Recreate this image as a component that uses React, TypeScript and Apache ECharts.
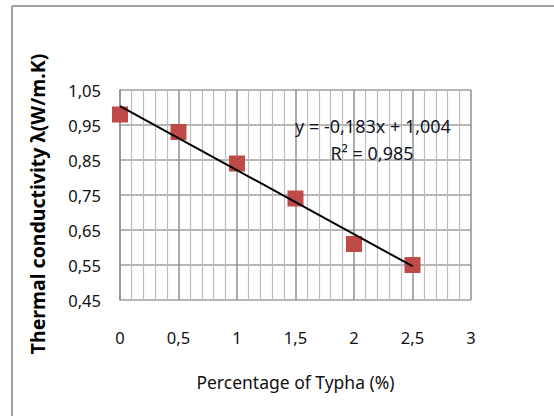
import React, { useEffect, useRef } from "react";
import * as echarts from "echarts";

const typhaPercent = [0, 0.5, 1, 1.5, 2, 2.5];
const conductivity = [0.98, 0.93, 0.84, 0.74, 0.61, 0.55];
const trendSlope = -0.183;
const trendIntercept = 1.004;
const trendXRange = [0, 2.5];
const equationText = "y = -0,183x + 1,004";
const r2Text = "R² = 0,985";
const xTitle = "Percentage of Typha (%)";
const yTitle = "Thermal conductivity λ(W/m.K)";

const FONT = "'Noto Sans', 'Open Sans', sans-serif";

export default function App() {
  const ref = useRef<HTMLDivElement>(null);
  useEffect(() => {
    if (!ref.current) return;
    const chart = echarts.init(ref.current, undefined, { renderer: "svg" });
    const pts = typhaPercent.map((x, i) => [x, conductivity[i]]);
    const trend = trendXRange.map((x) => [x, trendSlope * x + trendIntercept]);
    chart.setOption({
      animation: false,
      backgroundColor: "#fff",
      grid: { left: 120, top: 90, right: 83, bottom: 116, containLabel: false },
      xAxis: {
        type: "value",
        min: 0,
        max: 3,
        interval: 0.5,
        axisLine: { show: false },
        axisTick: { show: false },
        minorTick: { show: false, splitNumber: 5 },
        splitLine: { show: true, lineStyle: { color: "#8f8f8f", width: 1.5 } },
        minorSplitLine: { show: true, lineStyle: { color: "#bcbcbc", width: 1.2 } },
        axisLabel: {
          margin: 29,
          fontSize: 16.5,
          fontFamily: FONT,
          color: "#111",
          formatter: (v: number) => String(v).replace(".", ","),
        },
        name: xTitle,
        nameLocation: "middle",
        nameGap: 73,
        nameTextStyle: { fontSize: 17.5, fontFamily: FONT, color: "#111" },
      },
      yAxis: {
        type: "value",
        min: 0.45,
        max: 1.05,
        interval: 0.1,
        axisLine: { show: true, lineStyle: { color: "#8f8f8f", width: 1.5 } },
        axisTick: { show: false },
        splitLine: { show: true, lineStyle: { color: "#9f9f9f", width: 1.5 } },
        axisLabel: {
          margin: 19,
          fontSize: 16.5,
          fontFamily: FONT,
          color: "#111",
          formatter: (v: number) => v.toFixed(2).replace(".", ","),
        },
      },
      series: [
        {
          type: "scatter",
          data: pts,
          symbol: "rect",
          symbolSize: 16,
          itemStyle: { color: "#be4b48", opacity: 1 },
          z: 2,
        },
        {
          type: "line",
          data: trend,
          showSymbol: false,
          symbol: "none",
          lineStyle: { color: "#000", width: 2 },
          z: 3,
        },
      ],
      graphic: [
        { type: "line", shape: { x1: 12, y1: 6, x2: 12, y2: 416 }, style: { stroke: "#a0a0a0", lineWidth: 2 } },
        { type: "line", shape: { x1: 12, y1: 6, x2: 554, y2: 6 }, style: { stroke: "#a0a0a0", lineWidth: 2 } },
        {
          type: "text",
          x: 37,
          y: 204,
          rotation: Math.PI / 2,
          style: {
            text: yTitle,
            fontSize: 19.5,
            fontWeight: "bold",
            fontFamily: FONT,
            fill: "#000",
            align: "center",
            verticalAlign: "middle",
          },
          z: 10,
        },
        {
          type: "text",
          x: 373,
          y: 126,
          style: { text: equationText, fontSize: 18, fontFamily: FONT, fill: "#111827", align: "center", verticalAlign: "middle" },
          z: 10,
        },
        {
          type: "text",
          x: 372,
          y: 153,
          style: { text: r2Text, fontSize: 18, fontFamily: FONT, fill: "#111827", align: "center", verticalAlign: "middle" },
          z: 10,
        },
      ],
    });
    return () => chart.dispose();
  }, []);
  return <div ref={ref} style={{ position: "fixed", left: 0, top: 0, width: 554, height: 416 }} />;
}
